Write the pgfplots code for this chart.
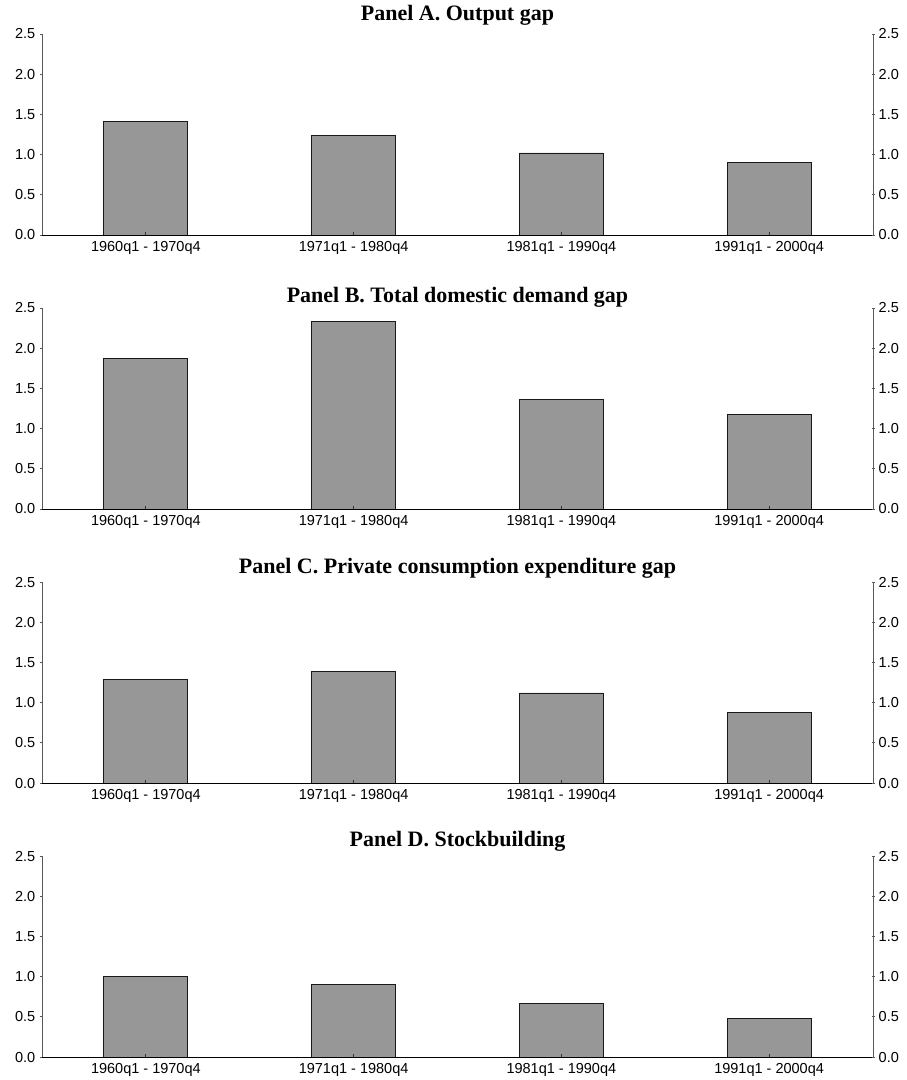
\documentclass[border=0pt]{standalone}
\usepackage{pgfplots}
\pgfplotsset{compat=1.18}
\usepackage{fontspec}
\setmainfont{Liberation Sans}
\newfontfamily\titlefont{Liberation Serif}
\definecolor{barfill}{RGB}{151,151,151}

\tikzset{ptitle/.style={font=\titlefont\bfseries\fontsize{22}{24}\selectfont, anchor=base}}

\pgfplotsset{
  common/.style={
    width=831pt, height=201pt, scale only axis,
    xmin=-0.5, xmax=3.5, ymin=0, ymax=2.5,
    ytick={0,0.5,1,1.5,2,2.5},
    ytick align=outside,
    major tick length=3pt,
    y axis line style={black!65, line width=0.8pt},
    ytick style={black!65, line width=0.8pt},
    tick label style={font=\fontsize{14.5}{16}\selectfont},
    yticklabel style={/pgf/number format/fixed, /pgf/number format/fixed zerofill, /pgf/number format/precision=1, /pgf/number format/assume math mode=true},
    clip=false,
  },
  leftpanel/.style={
    common,
    axis x line=bottom, axis y line=left,
    axis line style={-},
    x axis line style={black, line width=0.8pt},
    xtick={0,1,2,3},
    xticklabels={1960q1 - 1970q4, 1971q1 - 1980q4, 1981q1 - 1990q4, 1991q1 - 2000q4},
    xtick align=inside,
    xtick style={black!80, line width=0.8pt},
    xticklabel style={inner sep=0pt, yshift=-6pt},
    yticklabel style={inner sep=0pt, xshift=-5pt},
    axis on top,
  },
  rightpanel/.style={
    common,
    axis x line=none, axis y line=right,
    axis line style={-},
    yticklabel style={inner sep=0pt, xshift=4pt},
  },
  bars/.style={ybar, bar width=84pt, fill=barfill, draw=black!90, line width=0.9pt},
}

\begin{document}
\begin{tikzpicture}
\useasboundingbox (-42pt,-845pt) rectangle (865pt,235pt);

% Panel A
\begin{axis}[leftpanel, at={(0pt,0pt)}, anchor=south west]
\addplot[bars] coordinates {(0,1.41) (1,1.24) (2,1.02) (3,0.90)};
\node[ptitle] at (rel axis cs:0.5,1) [yshift=14pt] {Panel A. Output gap};
\end{axis}
\begin{axis}[rightpanel, at={(0pt,0pt)}, anchor=south west]
\end{axis}

% Panel B
\begin{axis}[leftpanel, at={(0pt,-274pt)}, anchor=south west]
\addplot[bars] coordinates {(0,1.87) (1,2.33) (2,1.36) (3,1.17)};
\node[ptitle] at (rel axis cs:0.5,1) [yshift=6pt] {Panel B. Total domestic demand gap};
\end{axis}
\begin{axis}[rightpanel, at={(0pt,-274pt)}, anchor=south west]
\end{axis}

% Panel C
\begin{axis}[leftpanel, at={(0pt,-548pt)}, anchor=south west]
\addplot[bars] coordinates {(0,1.29) (1,1.39) (2,1.12) (3,0.88)};
\node[ptitle] at (rel axis cs:0.5,1) [yshift=9pt] {Panel C. Private consumption expenditure gap};
\end{axis}
\begin{axis}[rightpanel, at={(0pt,-548pt)}, anchor=south west]
\end{axis}

% Panel D
\begin{axis}[leftpanel, at={(0pt,-822pt)}, anchor=south west]
\addplot[bars] coordinates {(0,1.00) (1,0.90) (2,0.67) (3,0.475)};
\node[ptitle] at (rel axis cs:0.5,1) [yshift=10pt] {Panel D. Stockbuilding};
\end{axis}
\begin{axis}[rightpanel, at={(0pt,-822pt)}, anchor=south west]
\end{axis}
\end{tikzpicture}
\end{document}
